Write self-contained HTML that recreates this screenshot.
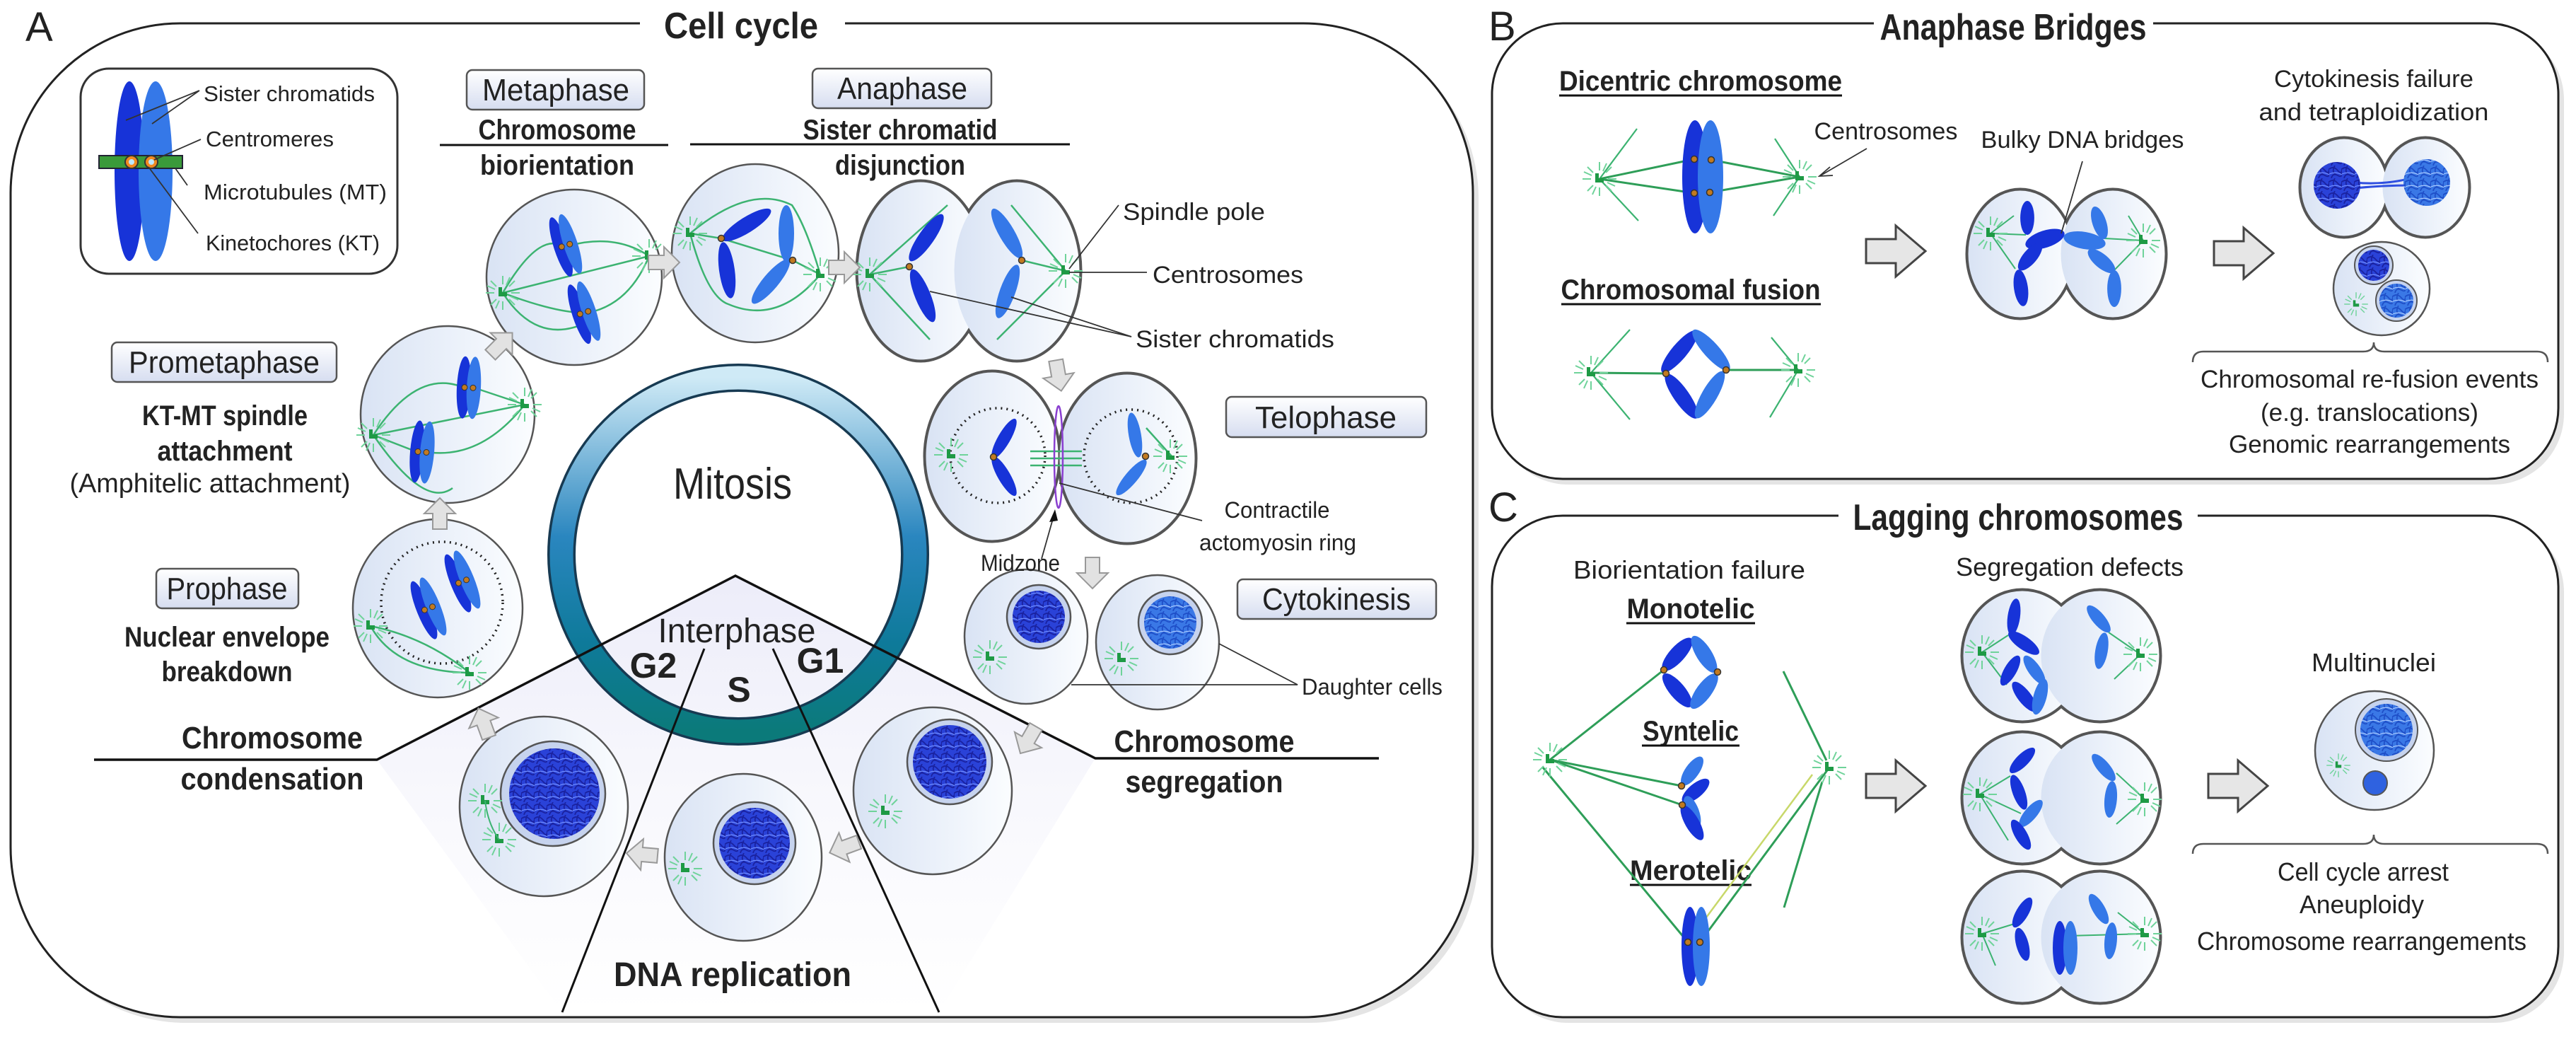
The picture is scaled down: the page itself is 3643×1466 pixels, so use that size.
<!DOCTYPE html>
<html><head><meta charset="utf-8"><style>
html,body{margin:0;padding:0;background:#fff}
svg{display:block}
text{font-family:"Liberation Sans",sans-serif;fill:#222}
.b{font-weight:bold}
</style></head><body>
<svg width="3643" height="1466" viewBox="0 0 3643 1466" xmlns="http://www.w3.org/2000/svg">
<defs>
<linearGradient id="cg" x1="0" y1="0" x2="1" y2="0"><stop offset="0" stop-color="#d9e3f4"/><stop offset="1" stop-color="#fbfdff"/></linearGradient>
<linearGradient id="bg" x1="0" y1="0" x2="0" y2="1"><stop offset="0" stop-color="#ffffff"/><stop offset="1" stop-color="#d6ddf0"/></linearGradient>
<linearGradient id="rg" x1="0" y1="0" x2="0" y2="1"><stop offset="0" stop-color="#cfeaf6"/><stop offset="0.45" stop-color="#2a86bf"/><stop offset="0.75" stop-color="#0e7a9a"/><stop offset="1" stop-color="#0b7a7a"/></linearGradient>
<linearGradient id="tg" x1="0" y1="0" x2="0" y2="1"><stop offset="0" stop-color="#e0e0f5"/><stop offset="0.5" stop-color="#f3f3fb"/><stop offset="1" stop-color="#ffffff"/></linearGradient>
<pattern id="dna" width="18" height="18" patternUnits="userSpaceOnUse"><rect width="18" height="18" fill="#2a42d8"/><path d="M0 5 Q6 0 12 7 T18 4 M3 18 Q5 10 12 14 T17 10 M8 0 Q3 9 9 12" stroke="#1a22a0" stroke-width="1.8" fill="none"/><path d="M0 12 Q9 8 18 13" stroke="#6f8cff" stroke-width="1.2" fill="none"/></pattern>
<pattern id="dna2" width="18" height="18" patternUnits="userSpaceOnUse"><rect width="18" height="18" fill="#3a78e6"/><path d="M0 5 Q6 0 12 7 T18 4 M3 18 Q5 10 12 14 T17 10 M8 0 Q3 9 9 12" stroke="#1f4fc8" stroke-width="1.8" fill="none"/><path d="M0 12 Q9 8 18 13" stroke="#a8c8ff" stroke-width="1.2" fill="none"/></pattern>
<g id="cs">
<g stroke="#6fd39a" stroke-width="2">
<line x1="12" y1="0" x2="24" y2="0"/><line x1="-12" y1="0" x2="-24" y2="0"/><line x1="0" y1="12" x2="0" y2="24"/><line x1="0" y1="-12" x2="0" y2="-24"/>
<line x1="9" y1="9" x2="17" y2="17"/><line x1="-9" y1="9" x2="-17" y2="17"/><line x1="9" y1="-9" x2="17" y2="-17"/><line x1="-9" y1="-9" x2="-17" y2="-17"/>
<line x1="11" y1="5" x2="22" y2="10"/><line x1="-11" y1="-5" x2="-22" y2="-10"/><line x1="5" y1="-11" x2="10" y2="-22"/><line x1="-5" y1="11" x2="-10" y2="22"/>
</g>
<path d="M-6 -8 h5 v7 h7 v6 h-12 z" fill="#1e9a45"/>
</g>
<ellipse id="ct" rx="11" ry="40"/>
<g id="X"><ellipse cx="-7" rx="10" ry="44" fill="#1733d8"/><ellipse cx="7" rx="10" ry="44" fill="#3578e8"/><circle cx="-6" r="4" fill="#c27a20" stroke="#333"/><circle cx="6" r="4" fill="#c27a20" stroke="#333"/></g>
<polygon id="ar" points="-22,-10 0,-10 0,-22 22,0 0,22 0,10 -22,10" fill="#e2e2e2" stroke="#999" stroke-width="2"/>
<polygon id="bar" points="-42,-17 0,-17 0,-36 42,0 0,36 0,17 -42,17" fill="#e6e6e6" stroke="#444" stroke-width="3"/>
<circle id="kt" r="4.5" fill="#c27a20" stroke="#333" stroke-width="1.5"/>
</defs>

<rect x="23" y="41" width="2068" height="1405" rx="240" fill="#e4e4e4"/>
<rect x="15" y="33" width="2068" height="1405" rx="240" fill="#fff" stroke="#222" stroke-width="3"/>
<rect x="2118" y="41" width="1508" height="644" rx="100" fill="#e4e4e4"/>
<rect x="2110" y="33" width="1508" height="644" rx="100" fill="#fff" stroke="#222" stroke-width="3"/>
<rect x="2118" y="737" width="1508" height="709" rx="100" fill="#e4e4e4"/>
<rect x="2110" y="729" width="1508" height="709" rx="100" fill="#fff" stroke="#222" stroke-width="3"/>
<rect x="905" y="8" width="290" height="56" fill="#fff"/>
<rect x="2650" y="8" width="395" height="56" fill="#fff"/>
<rect x="2600" y="700" width="508" height="56" fill="#fff"/>

<text x="36" y="58" font-size="58">A</text>
<text x="2105" y="57" font-size="58">B</text>
<text x="2105" y="737" font-size="58">C</text>
<text x="1048" y="54" font-size="52" class="b" text-anchor="middle" textLength="218" lengthAdjust="spacingAndGlyphs" fill="#333">Cell cycle</text>
<text x="2847" y="56" font-size="52" class="b" text-anchor="middle" textLength="377" lengthAdjust="spacingAndGlyphs" fill="#333">Anaphase Bridges</text>
<text x="2854" y="749" font-size="52" class="b" text-anchor="middle" textLength="467" lengthAdjust="spacingAndGlyphs" fill="#333">Lagging chromosomes</text>

<polygon points="1040,814 533,1074 795,1431 1328,1431 1549,1072" fill="url(#tg)" opacity="0.6"/>
<circle cx="1044" cy="784" r="250" fill="none" stroke="#173a52" stroke-width="40"/>
<circle cx="1044" cy="784" r="250" fill="none" stroke="url(#rg)" stroke-width="33"/>
<polyline points="133,1074 533,1074 1040,814 1549,1072 1950,1072" fill="none" stroke="#111" stroke-width="3.5"/>
<line x1="996" y1="917" x2="795" y2="1431" stroke="#111" stroke-width="3"/>
<line x1="1093" y1="917" x2="1328" y2="1431" stroke="#111" stroke-width="3"/>
<text x="1036" y="705" font-size="62" text-anchor="middle" textLength="168" lengthAdjust="spacingAndGlyphs">Mitosis</text>
<text x="1042" y="908" font-size="48" text-anchor="middle" textLength="223" lengthAdjust="spacingAndGlyphs">Interphase</text>
<text x="924" y="958" font-size="50" class="b" text-anchor="middle">G2</text>
<text x="1045" y="992" font-size="50" class="b" text-anchor="middle">S</text>
<text x="1160" y="951" font-size="50" class="b" text-anchor="middle">G1</text>
<text x="1036" y="1394" font-size="48" class="b" text-anchor="middle" textLength="336" lengthAdjust="spacingAndGlyphs">DNA replication</text>
<text x="385" y="1058" font-size="44" class="b" text-anchor="middle" textLength="256" lengthAdjust="spacingAndGlyphs">Chromosome</text>
<text x="385" y="1116" font-size="44" class="b" text-anchor="middle" textLength="259" lengthAdjust="spacingAndGlyphs">condensation</text>
<text x="1703" y="1063" font-size="44" class="b" text-anchor="middle" textLength="255" lengthAdjust="spacingAndGlyphs">Chromosome</text>
<text x="1703" y="1120" font-size="44" class="b" text-anchor="middle" textLength="223" lengthAdjust="spacingAndGlyphs">segregation</text>

<rect x="114" y="97" width="448" height="290" rx="40" fill="#fff" stroke="#333" stroke-width="3"/>
<ellipse cx="183" cy="242" rx="21" ry="127" fill="#1733d8"/>
<ellipse cx="220" cy="242" rx="24" ry="127" fill="#3578e8"/>
<rect x="140" y="220" width="118" height="18" fill="#3a9a3a" stroke="#223" stroke-width="2"/>
<circle cx="186" cy="229" r="9" fill="#f08a20" stroke="#333" stroke-width="2"/><circle cx="186" cy="229" r="4" fill="#bfe8ff"/>
<circle cx="214" cy="229" r="9" fill="#f08a20" stroke="#333" stroke-width="2"/><circle cx="214" cy="229" r="4" fill="#bfe8ff"/>
<g stroke="#333" stroke-width="1.8" fill="none">
<path d="M282 128 L178 170 M282 128 L215 175"/><path d="M284 197 L218 226"/><path d="M265 262 L248 238"/><path d="M280 330 L210 236"/>
</g>
<g font-size="31">
<text x="288" y="143" textLength="242" lengthAdjust="spacingAndGlyphs">Sister chromatids</text>
<text x="291" y="207" textLength="181" lengthAdjust="spacingAndGlyphs">Centromeres</text>
<text x="288" y="282" textLength="259" lengthAdjust="spacingAndGlyphs">Microtubules (MT)</text>
<text x="291" y="354" textLength="246" lengthAdjust="spacingAndGlyphs">Kinetochores (KT)</text>
</g>

<g stroke="#555" stroke-width="2.5" fill="url(#bg)">
<rect x="660" y="99" width="251" height="56" rx="8"/>
<rect x="1149" y="97" width="253" height="56" rx="8"/>
<rect x="158" y="484" width="318" height="56" rx="8"/>
<rect x="221" y="804" width="201" height="56" rx="8"/>
<rect x="1734" y="561" width="283" height="57" rx="8"/>
<rect x="1750" y="819" width="281" height="56" rx="8"/>
</g>
<g font-size="44" text-anchor="middle">
<text x="786" y="142" textLength="208" lengthAdjust="spacingAndGlyphs">Metaphase</text>
<text x="1276" y="140" textLength="184" lengthAdjust="spacingAndGlyphs">Anaphase</text>
<text x="317" y="527" textLength="270" lengthAdjust="spacingAndGlyphs">Prometaphase</text>
<text x="321" y="847" textLength="171" lengthAdjust="spacingAndGlyphs">Prophase</text>
<text x="1875" y="605" textLength="200" lengthAdjust="spacingAndGlyphs">Telophase</text>
<text x="1890" y="862" textLength="210" lengthAdjust="spacingAndGlyphs">Cytokinesis</text>
</g>
<g font-size="40" class="b" text-anchor="middle">
<text x="788" y="197" textLength="223" lengthAdjust="spacingAndGlyphs">Chromosome</text>
<text x="788" y="247" textLength="218" lengthAdjust="spacingAndGlyphs">biorientation</text>
<text x="1273" y="197" textLength="275" lengthAdjust="spacingAndGlyphs">Sister chromatid</text>
<text x="1273" y="247" textLength="184" lengthAdjust="spacingAndGlyphs">disjunction</text>
<text x="318" y="601" textLength="234" lengthAdjust="spacingAndGlyphs">KT-MT spindle</text>
<text x="318" y="651" textLength="191" lengthAdjust="spacingAndGlyphs">attachment</text>
<text x="321" y="914" textLength="290" lengthAdjust="spacingAndGlyphs">Nuclear envelope</text>
<text x="321" y="963" textLength="185" lengthAdjust="spacingAndGlyphs">breakdown</text>
</g>
<text x="297" y="696" font-size="38" text-anchor="middle" textLength="397" lengthAdjust="spacingAndGlyphs">(Amphitelic attachment)</text>
<line x1="622" y1="205" x2="945" y2="205" stroke="#111" stroke-width="3"/>
<line x1="976" y1="204" x2="1513" y2="204" stroke="#111" stroke-width="3"/>

<g stroke="#555" stroke-width="2.5" fill="url(#cg)">
<circle cx="812" cy="392" r="124"/>
<ellipse cx="1068" cy="358" rx="118" ry="126"/>
<ellipse cx="633" cy="586" rx="123" ry="125"/>
<ellipse cx="619" cy="860" rx="120" ry="126"/>
<ellipse cx="769" cy="1140" rx="119" ry="127"/>
<ellipse cx="1051" cy="1212" rx="111" ry="118"/>
<ellipse cx="1319" cy="1118" rx="112" ry="118"/>
<ellipse cx="1451" cy="900" rx="87" ry="95"/>
<ellipse cx="1637" cy="908" rx="87" ry="95"/>
</g>
<g stroke="#555" stroke-width="5" fill="#fff">
<ellipse cx="1302" cy="383" rx="90" ry="127"/><ellipse cx="1438" cy="383" rx="90" ry="127"/>
<ellipse cx="1403" cy="645" rx="95" ry="120"/><ellipse cx="1594" cy="648" rx="97" ry="120"/>
</g>
<g fill="url(#cg)">
<ellipse cx="1302" cy="383" rx="88.5" ry="125.5"/><ellipse cx="1438" cy="383" rx="88.5" ry="125.5"/>
<ellipse cx="1403" cy="645" rx="93.5" ry="118.5"/><ellipse cx="1594" cy="648" rx="95.5" ry="118.5"/>
</g>

<g stroke="#3cb371" stroke-width="2.5" fill="none">
<path d="M711 414 Q760 330 794 347 M711 414 Q780 440 820 442 M711 414 L918 362 M806 347 Q870 330 918 362 M832 442 Q890 430 918 362 M711 414 Q760 490 832 455"/>
</g>
<use href="#X" transform="translate(800,347) rotate(-18)"/>
<use href="#X" transform="translate(826,442) rotate(-18)"/>
<use href="#cs" x="711" y="414"/><use href="#cs" x="918" y="362"/>

<g stroke="#3cb371" stroke-width="2.5" fill="none">
<path d="M976 330 L1020 337 L1121 368 L1160 388 M976 330 Q1060 260 1120 290 Q1140 320 1160 388 M976 330 Q1000 420 1030 430 Q1100 460 1160 388"/>
</g>
<use href="#ct" transform="translate(1056,318) rotate(58)" fill="#1733d8"/>
<use href="#ct" transform="translate(1028,382) rotate(-8)" fill="#1733d8"/>
<use href="#ct" transform="translate(1112,330) rotate(0)" fill="#3578e8"/>
<use href="#ct" transform="translate(1090,398) rotate(40)" fill="#3578e8"/>
<use href="#kt" x="1020" y="337"/><use href="#kt" x="1121" y="368"/>
<use href="#cs" x="976" y="330"/><use href="#cs" x="1160" y="388"/>

<g stroke="#3cb371" stroke-width="2.5" fill="none">
<path d="M1230 388 L1286 377 M1445 368 L1507 383 M1230 388 L1340 290 M1230 388 L1315 480 M1507 383 L1430 290 M1507 383 L1410 480"/>
</g>
<use href="#ct" transform="translate(1310,336) rotate(35)" fill="#1733d8"/>
<use href="#ct" transform="translate(1305,418) rotate(-22)" fill="#1733d8"/>
<use href="#ct" transform="translate(1424,330) rotate(-30)" fill="#3578e8"/>
<use href="#ct" transform="translate(1425,412) rotate(20)" fill="#3578e8"/>
<use href="#kt" x="1286" y="377"/><use href="#kt" x="1445" y="368"/>
<use href="#cs" x="1230" y="388"/><use href="#cs" x="1507" y="383"/>
<g stroke="#333" stroke-width="1.8"><line x1="1512" y1="380" x2="1582" y2="290"/><line x1="1512" y1="385" x2="1622" y2="385"/><line x1="1315" y1="412" x2="1600" y2="476"/><line x1="1430" y1="420" x2="1600" y2="476"/></g>
<g font-size="34">
<text x="1588" y="311" textLength="201" lengthAdjust="spacingAndGlyphs">Spindle pole</text>
<text x="1630" y="400" textLength="213" lengthAdjust="spacingAndGlyphs">Centrosomes</text>
<text x="1606" y="491" textLength="281" lengthAdjust="spacingAndGlyphs">Sister chromatids</text>
</g>

<g stroke="#3cb371" stroke-width="2.5" fill="none">
<path d="M528 615 Q590 520 656 548 M670 548 L742 572 M528 615 L742 572 M528 615 L590 639 M604 639 Q680 650 742 572 M528 615 Q600 720 640 690"/>
</g>
<use href="#X" transform="translate(663,548) rotate(3)"/>
<use href="#X" transform="translate(597,639) rotate(5)"/>
<use href="#cs" x="528" y="615"/><use href="#cs" x="742" y="572"/>

<circle cx="625" cy="852" r="86" fill="none" stroke="#222" stroke-width="3.5" stroke-dasharray="2 6"/>
<g stroke="#3cb371" stroke-width="2.5" fill="none"><path d="M524 885 Q560 950 664 951 M524 885 Q600 900 664 951"/></g>
<use href="#X" transform="translate(606,860) rotate(-22)"/>
<use href="#X" transform="translate(654,822) rotate(-22)"/>
<use href="#cs" x="524" y="885"/><use href="#cs" x="664" y="951"/>

<circle cx="1411" cy="644" r="67" fill="none" stroke="#222" stroke-width="3.5" stroke-dasharray="2 6"/>
<circle cx="1599" cy="645" r="66" fill="none" stroke="#222" stroke-width="3.5" stroke-dasharray="2 6"/>
<g stroke="#3cb371" stroke-width="2.5"><line x1="1457" y1="638" x2="1530" y2="638"/><line x1="1457" y1="648" x2="1530" y2="648"/><line x1="1457" y1="658" x2="1530" y2="658"/><line x1="1621" y1="605" x2="1657" y2="645"/></g>
<ellipse cx="1497" cy="646" rx="6" ry="72" fill="none" stroke="#8a3fd0" stroke-width="2.5"/>
<use href="#ct" transform="translate(1420,620) rotate(30) scale(0.8)" fill="#1733d8"/>
<use href="#ct" transform="translate(1420,673) rotate(-30) scale(0.8)" fill="#1733d8"/>
<use href="#ct" transform="translate(1605,615) rotate(-10) scale(0.8)" fill="#3578e8"/>
<use href="#ct" transform="translate(1600,675) rotate(40) scale(0.8)" fill="#3578e8"/>
<use href="#kt" x="1405" y="646"/><use href="#kt" x="1620" y="645"/>
<use href="#cs" x="1345" y="643"/><use href="#cs" x="1655" y="645"/>
<line x1="1498" y1="683" x2="1700" y2="736" stroke="#333" stroke-width="1.8"/>
<line x1="1473" y1="790" x2="1490" y2="730" stroke="#333" stroke-width="1.8"/>
<polygon points="1492,720 1484,738 1496,736" fill="#111"/>
<g font-size="32" text-anchor="middle">
<text x="1806" y="732" textLength="149" lengthAdjust="spacingAndGlyphs">Contractile</text>
<text x="1807" y="778" textLength="222" lengthAdjust="spacingAndGlyphs">actomyosin ring</text>
<text x="1443" y="807" textLength="112" lengthAdjust="spacingAndGlyphs">Midzone</text>
</g>

<circle cx="1469" cy="872" r="45" fill="#c6d3ee" stroke="#555" stroke-width="2.5"/><circle cx="1469" cy="872" r="37" fill="url(#dna)"/>
<circle cx="1655" cy="880" r="45" fill="#c6d3ee" stroke="#555" stroke-width="2.5"/><circle cx="1655" cy="880" r="37" fill="url(#dna2)"/>
<use href="#cs" x="1400" y="929"/><use href="#cs" x="1586" y="931"/>
<g stroke="#333" stroke-width="1.8" fill="none"><path d="M1724 910 L1835 968 L1515 968"/></g>
<text x="1841" y="982" font-size="32" textLength="199" lengthAdjust="spacingAndGlyphs">Daughter cells</text>

<circle cx="782" cy="1122" r="74" fill="#c6d3ee" stroke="#555" stroke-width="2.5"/><circle cx="784" cy="1122" r="64" fill="url(#dna)"/>
<use href="#cs" x="686" y="1132"/><use href="#cs" x="706" y="1187"/>
<path d="M686 1132 Q690 1165 706 1187" stroke="#3cb371" stroke-width="2" fill="none"/>
<circle cx="1067" cy="1192" r="58" fill="#c6d3ee" stroke="#555" stroke-width="2.5"/><circle cx="1067" cy="1192" r="50" fill="url(#dna)"/>
<use href="#cs" x="969" y="1228"/>
<circle cx="1343" cy="1077" r="60" fill="#c6d3ee" stroke="#555" stroke-width="2.5"/><circle cx="1343" cy="1077" r="52" fill="url(#dna)"/>
<use href="#cs" x="1252" y="1147"/>

<use href="#ar" transform="translate(622,726) rotate(-90)"/>
<use href="#ar" transform="translate(709,486) rotate(-45)"/>
<use href="#ar" transform="translate(939,371)"/>
<use href="#ar" transform="translate(1194,378)"/>
<use href="#ar" transform="translate(1497,531) rotate(80)"/>
<use href="#ar" transform="translate(1545,810) rotate(90)"/>
<use href="#ar" transform="translate(1454,1046) rotate(120)"/>
<use href="#ar" transform="translate(1194,1198) rotate(160)"/>
<use href="#ar" transform="translate(908,1208) rotate(185)"/>
<use href="#ar" transform="translate(684,1022) rotate(-110)"/>

<g font-size="40" class="b" text-anchor="middle">
<text x="2405" y="128" textLength="400" lengthAdjust="spacingAndGlyphs">Dicentric chromosome</text>
<text x="2391" y="423" textLength="367" lengthAdjust="spacingAndGlyphs">Chromosomal fusion</text>
</g>
<line x1="2205" y1="135" x2="2605" y2="135" stroke="#111" stroke-width="3"/>
<line x1="2208" y1="430" x2="2575" y2="430" stroke="#111" stroke-width="3"/>
<g stroke="#3cb371" stroke-width="2.2">
<line x1="2262" y1="253" x2="2315" y2="182"/><line x1="2262" y1="253" x2="2317" y2="312"/>
<line x1="2545" y1="250" x2="2510" y2="196"/><line x1="2545" y1="250" x2="2508" y2="305"/>
<line x1="2250" y1="527" x2="2305" y2="466"/><line x1="2250" y1="527" x2="2305" y2="593"/>
<line x1="2543" y1="523" x2="2505" y2="477"/><line x1="2543" y1="523" x2="2503" y2="590"/>
</g>
<g stroke="#2e9e58" stroke-width="3">
<line x1="2262" y1="253" x2="2396" y2="225"/><line x1="2262" y1="253" x2="2396" y2="273"/>
<line x1="2545" y1="250" x2="2420" y2="226"/><line x1="2545" y1="250" x2="2418" y2="272"/>
<line x1="2250" y1="527" x2="2356" y2="528"/><line x1="2543" y1="523" x2="2441" y2="523"/>
</g>
<ellipse cx="2397" cy="250" rx="18" ry="80" fill="#1733d8"/><ellipse cx="2419" cy="250" rx="18" ry="80" fill="#3578e8"/>
<use href="#kt" x="2396" y="225"/><use href="#kt" x="2420" y="226"/><use href="#kt" x="2396" y="273"/><use href="#kt" x="2418" y="272"/>
<use href="#ct" transform="translate(2375,497) rotate(40) scale(1,0.95)" fill="#1733d8"/>
<use href="#ct" transform="translate(2378,560) rotate(-35) scale(1,0.95)" fill="#1733d8"/>
<use href="#ct" transform="translate(2420,495) rotate(-42) scale(1,0.95)" fill="#3578e8"/>
<use href="#ct" transform="translate(2418,558) rotate(30) scale(1,0.95)" fill="#3578e8"/>
<use href="#kt" x="2356" y="528"/><use href="#kt" x="2441" y="523"/>
<use href="#cs" x="2262" y="253"/><use href="#cs" x="2545" y="250"/><use href="#cs" x="2250" y="527"/><use href="#cs" x="2543" y="523"/>
<text x="2667" y="197" font-size="34" text-anchor="middle" textLength="203" lengthAdjust="spacingAndGlyphs">Centrosomes</text>
<line x1="2640" y1="210" x2="2575" y2="248" stroke="#333" stroke-width="1.8"/>
<path d="M2588 236 L2573 249 L2592 248" stroke="#333" stroke-width="1.8" fill="none"/>
<use href="#bar" x="2681" y="355"/>
<text x="2945" y="209" font-size="34" text-anchor="middle" textLength="287" lengthAdjust="spacingAndGlyphs">Bulky DNA bridges</text>
<g stroke="#555" stroke-width="5" fill="#fff"><ellipse cx="2857" cy="359" rx="75" ry="91"/><ellipse cx="2988" cy="359" rx="75" ry="91"/></g>
<g fill="url(#cg)"><ellipse cx="2857" cy="359" rx="73.5" ry="89.5"/><ellipse cx="2988" cy="359" rx="73.5" ry="89.5"/></g>
<g stroke="#3cb371" stroke-width="2"><line x1="2815" y1="330" x2="2865" y2="332"/><line x1="2815" y1="330" x2="2850" y2="380"/><line x1="3031" y1="340" x2="2976" y2="337"/><line x1="3031" y1="340" x2="2990" y2="382"/><line x1="2815" y1="330" x2="2848" y2="305"/><line x1="3031" y1="340" x2="3010" y2="305"/></g>
<use href="#ct" transform="translate(2867,308) scale(0.9,0.6)" fill="#1733d8"/>
<use href="#ct" transform="translate(2892,338) rotate(72) scale(1.1,0.72)" fill="#1733d8"/>
<use href="#ct" transform="translate(2948,340) rotate(-80) scale(1.1,0.75)" fill="#3578e8"/>
<use href="#ct" transform="translate(2969,315) rotate(-18) scale(0.9,0.6)" fill="#3578e8"/>
<use href="#ct" transform="translate(2871,363) rotate(40) scale(0.9,0.6)" fill="#1733d8"/>
<use href="#ct" transform="translate(2858,407) rotate(-8) scale(0.9,0.65)" fill="#1733d8"/>
<use href="#ct" transform="translate(2972,369) rotate(-50) scale(0.9,0.6)" fill="#3578e8"/>
<use href="#ct" transform="translate(2990,408) scale(0.9,0.65)" fill="#3578e8"/>
<use href="#cs" x="2815" y="330"/><use href="#cs" x="3031" y="340"/>
<line x1="2945" y1="228" x2="2915" y2="330" stroke="#333" stroke-width="1.8"/>
<use href="#bar" x="3173" y="358"/>
<text x="3357" y="123" font-size="34" text-anchor="middle" textLength="282" lengthAdjust="spacingAndGlyphs">Cytokinesis failure</text>
<text x="3357" y="170" font-size="34" text-anchor="middle" textLength="325" lengthAdjust="spacingAndGlyphs">and tetraploidization</text>
<g stroke="#555" stroke-width="5" fill="#fff"><ellipse cx="3315" cy="265" rx="62" ry="70"/><ellipse cx="3430" cy="265" rx="62" ry="70"/></g>
<g fill="url(#cg)"><ellipse cx="3315" cy="265" rx="60.5" ry="68.5"/><ellipse cx="3430" cy="265" rx="60.5" ry="68.5"/></g>
<path d="M3330 258 Q3370 262 3410 252 M3330 266 Q3370 262 3410 262" stroke="#2f4fe0" stroke-width="3" fill="none"/>
<circle cx="3305" cy="262" r="33" fill="url(#dna)"/><circle cx="3432" cy="258" r="33" fill="url(#dna2)"/>
<ellipse cx="3368" cy="408" rx="68" ry="66" fill="url(#cg)" stroke="#555" stroke-width="2.5"/>
<circle cx="3357" cy="375" r="27" fill="#c6d3ee" stroke="#555" stroke-width="2"/><circle cx="3357" cy="375" r="22" fill="url(#dna)"/>
<circle cx="3389" cy="425" r="29" fill="#c6d3ee" stroke="#555" stroke-width="2"/><circle cx="3389" cy="425" r="24" fill="url(#dna2)"/>
<use href="#cs" transform="translate(3332,430) scale(0.7)"/>
<path d="M3101 512 Q3101 497 3116 497 L3342 497 Q3357 497 3357 484 Q3357 497 3372 497 L3588 497 Q3603 497 3603 512" stroke="#555" stroke-width="2.5" fill="none"/>
<g font-size="35" text-anchor="middle">
<text x="3351" y="548" textLength="478" lengthAdjust="spacingAndGlyphs">Chromosomal re-fusion events</text>
<text x="3351" y="595" textLength="308" lengthAdjust="spacingAndGlyphs" fill="#555">(e.g. translocations)</text>
<text x="3351" y="640" textLength="398" lengthAdjust="spacingAndGlyphs">Genomic rearrangements</text>
</g>

<text x="2389" y="818" font-size="36" text-anchor="middle" textLength="328" lengthAdjust="spacingAndGlyphs">Biorientation failure</text>
<g font-size="40" class="b" text-anchor="middle">
<text x="2391" y="874" textLength="181" lengthAdjust="spacingAndGlyphs">Monotelic</text>
<text x="2391" y="1047" textLength="136" lengthAdjust="spacingAndGlyphs">Syntelic</text>
<text x="2391" y="1244" textLength="172" lengthAdjust="spacingAndGlyphs">Merotelic</text>
</g>
<g stroke="#111" stroke-width="3"><line x1="2300" y1="881" x2="2482" y2="881"/><line x1="2322" y1="1054" x2="2460" y2="1054"/><line x1="2305" y1="1251" x2="2477" y2="1251"/></g>
<g stroke="#2e9e58" stroke-width="3">
<line x1="2192" y1="1074" x2="2353" y2="947"/><line x1="2192" y1="1074" x2="2378" y2="1111"/><line x1="2192" y1="1074" x2="2379" y2="1138"/>
<line x1="2182" y1="1085" x2="2387" y2="1332"/><line x1="2587" y1="1085" x2="2404" y2="1332"/>
<line x1="2522" y1="949" x2="2583" y2="1075"/><line x1="2577" y1="1105" x2="2523" y2="1283"/>
</g>
<line x1="2563" y1="1095" x2="2387" y2="1332" stroke="#c8d86a" stroke-width="2.5"/>
<use href="#ct" transform="translate(2372,925) rotate(42) scale(1,0.75)" fill="#1733d8"/>
<use href="#ct" transform="translate(2372,976) rotate(-40) scale(1,0.75)" fill="#1733d8"/>
<use href="#ct" transform="translate(2410,925) rotate(-32) scale(1,0.75)" fill="#3578e8"/>
<use href="#ct" transform="translate(2410,977) rotate(36) scale(1,0.75)" fill="#3578e8"/>
<use href="#kt" x="2353" y="947"/><use href="#kt" x="2429" y="950"/>
<use href="#ct" transform="translate(2393,1090) rotate(35) scale(0.9,0.6)" fill="#3578e8"/>
<use href="#ct" transform="translate(2398,1118) rotate(50) scale(0.9,0.6)" fill="#1733d8"/>
<use href="#ct" transform="translate(2393,1148) rotate(-20) scale(0.9,0.6)" fill="#3578e8"/>
<use href="#ct" transform="translate(2393,1163) rotate(-30) scale(0.9,0.7)" fill="#1733d8"/>
<use href="#kt" x="2378" y="1111"/><use href="#kt" x="2379" y="1138"/>
<ellipse cx="2390" cy="1338" rx="12" ry="56" fill="#1733d8"/><ellipse cx="2406" cy="1338" rx="12" ry="56" fill="#3578e8"/>
<use href="#kt" x="2387" y="1332"/><use href="#kt" x="2404" y="1332"/>
<use href="#cs" x="2192" y="1074"/><use href="#cs" x="2587" y="1085"/>
<use href="#bar" x="2681" y="1111"/>
<text x="2927" y="814" font-size="36" text-anchor="middle" textLength="322" lengthAdjust="spacingAndGlyphs">Segregation defects</text>
<g stroke="#555" stroke-width="5" fill="#fff">
<ellipse cx="2860" cy="927" rx="85" ry="93"/><ellipse cx="2970" cy="927" rx="85" ry="93"/>
<ellipse cx="2860" cy="1128" rx="85" ry="93"/><ellipse cx="2970" cy="1128" rx="85" ry="93"/>
<ellipse cx="2860" cy="1325" rx="85" ry="93"/><ellipse cx="2970" cy="1325" rx="85" ry="93"/>
</g>
<g fill="url(#cg)">
<ellipse cx="2860" cy="927" rx="83.5" ry="91.5"/><ellipse cx="2970" cy="927" rx="83.5" ry="91.5"/>
<ellipse cx="2860" cy="1128" rx="83.5" ry="91.5"/><ellipse cx="2970" cy="1128" rx="83.5" ry="91.5"/>
<ellipse cx="2860" cy="1325" rx="83.5" ry="91.5"/><ellipse cx="2970" cy="1325" rx="83.5" ry="91.5"/>
</g>
<g stroke="#3cb371" stroke-width="2">
<line x1="2803" y1="922" x2="2840" y2="898"/><line x1="2803" y1="922" x2="2838" y2="968"/><line x1="3027" y1="925" x2="2982" y2="894"/><line x1="3027" y1="925" x2="2990" y2="960"/>
<line x1="2800" y1="1123" x2="2843" y2="1097"/><line x1="2800" y1="1123" x2="2858" y2="1150"/><line x1="2800" y1="1123" x2="2840" y2="1188"/><line x1="3033" y1="1130" x2="2993" y2="1093"/><line x1="3033" y1="1130" x2="2993" y2="1165"/>
<line x1="2803" y1="1320" x2="2852" y2="1305"/><line x1="2803" y1="1320" x2="2822" y2="1365"/><line x1="3033" y1="1320" x2="2925" y2="1323"/><line x1="3033" y1="1320" x2="2995" y2="1290"/>
</g>
<use href="#ct" transform="translate(2848,872) rotate(8) scale(0.8,0.65)" fill="#1733d8"/>
<use href="#ct" transform="translate(2862,909) rotate(-55) scale(0.85,0.65)" fill="#1733d8"/>
<use href="#ct" transform="translate(2843,948) rotate(30) scale(0.8,0.6)" fill="#1733d8"/>
<use href="#ct" transform="translate(2863,985) rotate(-38) scale(0.85,0.65)" fill="#1733d8"/>
<use href="#ct" transform="translate(2877,947) rotate(-35) scale(0.8,0.6)" fill="#3578e8"/>
<use href="#ct" transform="translate(2885,985) rotate(15) scale(0.85,0.65)" fill="#3578e8"/>
<use href="#ct" transform="translate(2968,875) rotate(-40) scale(0.8,0.6)" fill="#3578e8"/>
<use href="#ct" transform="translate(2972,920) rotate(10) scale(0.8,0.65)" fill="#3578e8"/>
<use href="#ct" transform="translate(2860,1075) rotate(45) scale(0.8,0.6)" fill="#1733d8"/>
<use href="#ct" transform="translate(2855,1120) rotate(-20) scale(0.8,0.65)" fill="#1733d8"/>
<use href="#ct" transform="translate(2872,1150) rotate(40) scale(0.8,0.6)" fill="#3578e8"/>
<use href="#ct" transform="translate(2858,1180) rotate(-30) scale(0.8,0.6)" fill="#1733d8"/>
<use href="#ct" transform="translate(2975,1085) rotate(-40) scale(0.8,0.6)" fill="#3578e8"/>
<use href="#ct" transform="translate(2985,1130) rotate(5) scale(0.8,0.65)" fill="#3578e8"/>
<use href="#ct" transform="translate(2860,1290) rotate(30) scale(0.8,0.6)" fill="#1733d8"/>
<use href="#ct" transform="translate(2860,1335) rotate(-15) scale(0.8,0.6)" fill="#1733d8"/>
<ellipse cx="2913" cy="1340" rx="10" ry="38" fill="#1733d8"/><ellipse cx="2928" cy="1340" rx="10" ry="38" fill="#3578e8"/>
<use href="#ct" transform="translate(2968,1285) rotate(-30) scale(0.8,0.6)" fill="#3578e8"/>
<use href="#ct" transform="translate(2985,1330) rotate(5) scale(0.8,0.65)" fill="#3578e8"/>
<use href="#cs" x="2803" y="922"/><use href="#cs" x="3027" y="925"/>
<use href="#cs" x="2800" y="1123"/><use href="#cs" x="3033" y="1130"/>
<use href="#cs" x="2803" y="1320"/><use href="#cs" x="3033" y="1320"/>
<use href="#bar" x="3165" y="1111"/>
<text x="3357" y="949" font-size="36" text-anchor="middle" textLength="176" lengthAdjust="spacingAndGlyphs">Multinuclei</text>
<circle cx="3358" cy="1061" r="84" fill="url(#cg)" stroke="#555" stroke-width="2.5"/>
<circle cx="3375" cy="1032" r="44" fill="#c6d3ee" stroke="#555" stroke-width="2"/><circle cx="3375" cy="1032" r="37" fill="url(#dna2)"/>
<circle cx="3359" cy="1107" r="17" fill="#2f62e0" stroke="#555" stroke-width="2"/>
<use href="#cs" transform="translate(3307,1082) scale(0.7)"/>
<path d="M3101 1207 Q3101 1193 3116 1193 L3342 1193 Q3357 1193 3357 1180 Q3357 1193 3372 1193 L3588 1193 Q3603 1193 3603 1207" stroke="#555" stroke-width="2.5" fill="none"/>
<g font-size="36" text-anchor="middle">
<text x="3342" y="1245" textLength="242" lengthAdjust="spacingAndGlyphs">Cell cycle arrest</text>
<text x="3340" y="1291" textLength="176" lengthAdjust="spacingAndGlyphs">Aneuploidy</text>
<text x="3340" y="1343" textLength="466" lengthAdjust="spacingAndGlyphs">Chromosome rearrangements</text>
</g>
</svg>
</body></html>
